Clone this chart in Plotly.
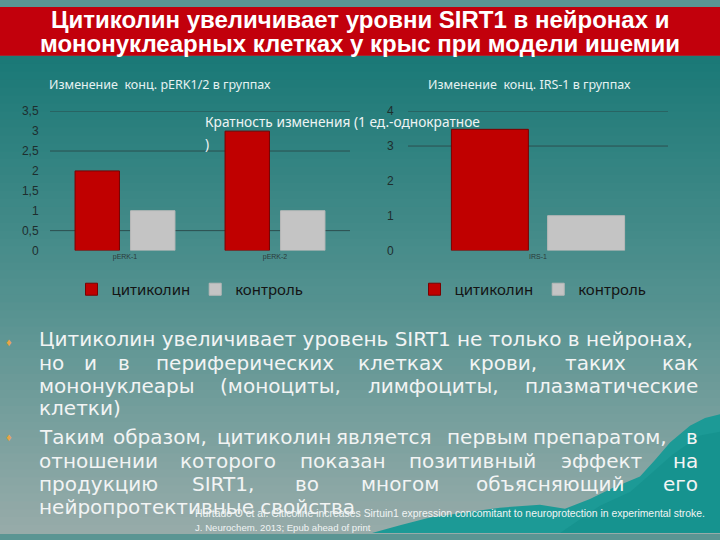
import plotly.graph_objects as go

# ---------------- data ----------------
title_lines = ["Цитиколин увеличивает уровни SIRT1 в нейронах и",
               "мононуклеарных клетках у крыс при модели ишемии"]

perk_title = "Изменение  конц. pERK1/2 в группах"
perk_cats = ["pERK-1", "pERK-2"]
perk_citicoline = [2.0, 3.0]
perk_control = [1.0, 1.0]
perk_ticks = [0, 0.5, 1, 1.5, 2, 2.5, 3, 3.5]
perk_ticktext = ["0", "0,5", "1", "1,5", "2", "2,5", "3", "3,5"]

irs_title = "Изменение  конц. IRS-1 в группах"
irs_cats = ["IRS-1"]
irs_citicoline = [3.48]
irs_control = [1.0]
irs_ticks = [0, 1, 2, 3, 4]

series_names = ["цитиколин", "контроль"]
axis_note = ["Кратность изменения (1 ед.-однократное", ")"]

bullet_lines = [
    ["Цитиколин увеличивает уровень SIRT1 не только в нейронах,"],
    ["но", "и", "в", "периферических", "клетках", "крови,", "таких", "как"],
    ["мононуклеары", "(моноциты,", "лимфоциты,", "плазматические"],
    ["клетки)"],
    ["Таким", "образом,", "цитиколин", "является", "первым", "препаратом,", "в"],
    ["отношении", "которого", "показан", "позитивный", "эффект", "на"],
    ["продукцию", "SIRT1,", "во", "многом", "объясняющий", "его"],
    ["нейропротективные свойства"],
]
citation = ["Hurtado O et al. Citicoline increases Sirtuin1 expression concomitant to neuroprotection in experimental stroke.",
            "J. Neurochem. 2013; Epub ahead of print"]

# ---------------- layout helpers ----------------
W, H = 720, 540
def px(x): return x / W
def py(y): return 1 - y / H

RED = "#c00000"
GREY = "#c4c4c4"

fig = go.Figure()
fig.add_bar(x=perk_cats, y=perk_citicoline, name=series_names[0], marker=dict(color=RED, line=dict(color="#7a0000", width=1)),
            xaxis="x", yaxis="y", legend="legend")
fig.add_bar(x=perk_cats, y=perk_control, name=series_names[1], marker=dict(color=GREY, line=dict(color="#b8b8b8", width=1)),
            xaxis="x", yaxis="y", legend="legend")
fig.add_bar(x=irs_cats, y=irs_citicoline, name=series_names[0], marker=dict(color=RED, line=dict(color="#7a0000", width=1)),
            xaxis="x2", yaxis="y2", legend="legend2")
fig.add_bar(x=irs_cats, y=irs_control, name=series_names[1], marker=dict(color=GREY, line=dict(color="#b8b8b8", width=1)),
            xaxis="x2", yaxis="y2", legend="legend2")

shapes = []
# background gradient
top_c = (26, 121, 119); mid_c = (84, 146, 144); bot_c = (152, 172, 170)
N = 60
for i in range(N):
    y0 = 50 + (H - 50) * i / N
    y1 = 50 + (H - 50) * (i + 1) / N + 1
    t = (y0 + y1) / 2
    if t < 300:
        f = (t - 50) / 250; a, b = top_c, mid_c
    else:
        f = (t - 300) / 240; a, b = mid_c, bot_c
    c = tuple(int(a[k] + (b[k] - a[k]) * f) for k in range(3))
    shapes.append(dict(type="rect", xref="paper", yref="paper", x0=0, x1=1, y0=py(y1), y1=py(y0),
                       fillcolor="rgb(%d,%d,%d)" % c, line=dict(width=0), layer="below"))
# header band
shapes.append(dict(type="rect", xref="paper", yref="paper", x0=0, x1=1, y0=py(50), y1=1,
                   fillcolor="#c2000c", line=dict(width=0), layer="below"))
# mountain
mpts = [(372, 540), (400, 532), (430, 524), (465, 519), (500, 514), (540, 511), (565, 515), (590, 505),
        (612, 494), (640, 482), (655, 465), (670, 447), (690, 430), (705, 422), (720, 418), (720, 540)]
path = "M " + " L ".join("%.4f,%.4f" % (px(x), py(y)) for x, y in mpts) + " Z"
shapes.append(dict(type="path", xref="paper", yref="paper", path=path, fillcolor="#1c9a96",
                   line=dict(width=0), layer="below"))
mpts2 = [(560, 540), (600, 512), (630, 498), (650, 480), (672, 460), (700, 440), (720, 436), (720, 540)]
path2 = "M " + " L ".join("%.4f,%.4f" % (px(x), py(y)) for x, y in mpts2) + " Z"
shapes.append(dict(type="path", xref="paper", yref="paper", path=path2, fillcolor="#14908c",
                   line=dict(width=0), layer="below", opacity=0.7))

# gridlines (only some drawn in the original)
for v in [0.5, 2.5, 3.5]:
    shapes.append(dict(type="line", xref="x domain", yref="y", x0=0, x1=1, y0=v, y1=v,
                       line=dict(color="#2c4f4f", width=1), layer="below"))
for v in [3, 4]:
    shapes.append(dict(type="line", xref="x2 domain", yref="y2", x0=0, x1=1, y0=v, y1=v,
                       line=dict(color="#2c4f4f", width=1), layer="below"))

ann = []
for i, line in enumerate(title_lines):
    ann.append(dict(text="<b>%s</b>" % line, xref="paper", yref="paper", x=0.5, y=py(13 + 24 * i),
                    xanchor="center", yanchor="middle", showarrow=False,
                    font=dict(family="Liberation Sans, Roboto, sans-serif", size=24, color="white")))
ann.append(dict(text=perk_title, xref="paper", yref="paper", x=px(47), y=py(80), xanchor="left", yanchor="middle",
                showarrow=False, font=dict(family="Noto Sans, sans-serif", size=12.5, color="#e6f2f2")))
ann.append(dict(text=irs_title, xref="paper", yref="paper", x=px(426), y=py(80), xanchor="left", yanchor="middle",
                showarrow=False, font=dict(family="Noto Sans, sans-serif", size=12.5, color="#e6f2f2")))
ann.append(dict(text=axis_note[0], xref="paper", yref="paper", x=px(203), y=py(118), xanchor="left", yanchor="middle",
                showarrow=False, font=dict(family="Noto Sans, sans-serif", size=13.7, color="#eef4f4")))
ann.append(dict(text=axis_note[1], xref="paper", yref="paper", x=px(203), y=py(140), xanchor="left", yanchor="middle",
                showarrow=False, font=dict(family="Noto Sans, sans-serif", size=13.7, color="#eef4f4")))

line_y = [341, 365, 389, 412, 441, 466, 490, 513]
word_centres = {
    1: [90, 124, 245, 400, 503, 595],
    2: [280, 433],
    4: [160, 274, 384, 487, 600],
    5: [228, 343, 472, 602],
    6: [223, 307, 400, 550],
}
BODY_FONT = dict(family="DejaVu Sans, sans-serif", size=20, color="#f2f4f4")
for i, words in enumerate(bullet_lines):
    y = py(line_y[i])
    ann.append(dict(text=words[0], xref="paper", yref="paper", x=px(37), y=y, xanchor="left",
                    yanchor="middle", showarrow=False, font=BODY_FONT))
    if len(words) == 1:
        continue
    ann.append(dict(text=words[-1], xref="paper", yref="paper", x=px(700), y=y, xanchor="right",
                    yanchor="middle", showarrow=False, font=BODY_FONT))
    for w, cx in zip(words[1:-1], word_centres[i]):
        ann.append(dict(text=w, xref="paper", yref="paper", x=px(cx), y=y, xanchor="center",
                        yanchor="middle", showarrow=False, font=BODY_FONT))
for yb in [343, 441]:
    ann.append(dict(text="♦", xref="paper", yref="paper", x=px(9), y=py(yb), xanchor="center", yanchor="middle",
                    showarrow=False, font=dict(size=11, color="#e8a448")))
for i, (c, s) in enumerate(zip(citation, [10.4, 9.6])):
    ann.append(dict(text=c, xref="paper", yref="paper", x=px(193), y=py(520 + 14 * i), xanchor="left",
                    yanchor="middle", showarrow=False,
                    font=dict(family="Liberation Sans, sans-serif", size=s, color="#f0f4f4")))

tick_font = dict(family="Liberation Sans, sans-serif", size=12, color="#1e2e2e")
fig.update_layout(
    width=W, height=H, margin=dict(l=0, r=0, t=0, b=0),
    paper_bgcolor="#5a9593", plot_bgcolor="rgba(0,0,0,0)",
    barmode="group", bargap=0.26, bargroupgap=0.2,
    shapes=shapes, annotations=ann,
    xaxis=dict(domain=[px(50), px(350)], showgrid=False, showline=False, zeroline=False,
               tickfont=dict(family="Liberation Sans, sans-serif", size=7, color="#2a3a3a"), ticks="", anchor="y"),
    yaxis=dict(domain=[py(250), py(107)], range=[0, 3.5], tickvals=perk_ticks, ticktext=perk_ticktext,
               showgrid=False, zeroline=False, showline=False, ticks="outside", ticklen=8,
               tickcolor="rgba(0,0,0,0)", tickfont=tick_font, anchor="x"),
    xaxis2=dict(domain=[px(408), px(668)], showgrid=False, showline=False, zeroline=False,
                tickfont=dict(family="Liberation Sans, sans-serif", size=7, color="#2a3a3a"), ticks="", anchor="y2"),
    yaxis2=dict(domain=[py(250), py(107)], range=[0, 4], tickvals=irs_ticks,
                showgrid=False, zeroline=False, showline=False, ticks="outside", ticklen=11,
                tickcolor="rgba(0,0,0,0)", tickfont=tick_font, anchor="x2"),
    legend=dict(orientation="h", x=px(190), y=py(290), xanchor="center", yanchor="middle",
                bgcolor="rgba(0,0,0,0)", font=dict(family="Noto Sans, sans-serif", size=15, color="#141414"),
                itemwidth=30, traceorder="normal"),
    legend2=dict(orientation="h", x=px(533), y=py(290), xanchor="center", yanchor="middle",
                 bgcolor="rgba(0,0,0,0)", font=dict(family="Noto Sans, sans-serif", size=15, color="#141414"),
                 itemwidth=30, traceorder="normal"),
    showlegend=True,
)
fig.write_html("out.html")
